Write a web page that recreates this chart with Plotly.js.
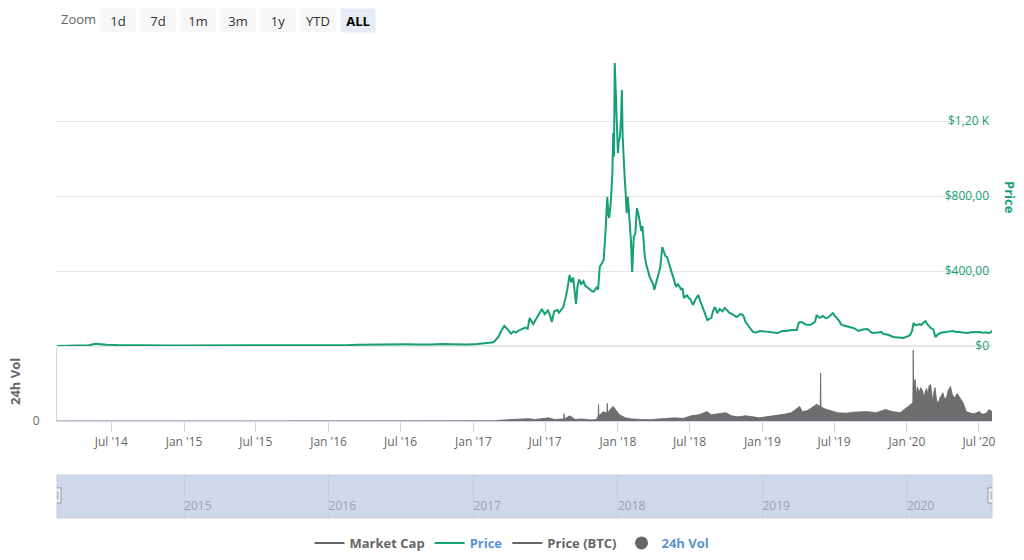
<!DOCTYPE html>
<html><head><meta charset="utf-8">
<script src="https://cdn.plot.ly/plotly-3.0.1.min.js"></script>
<style>html,body{margin:0;padding:0;background:#fff}#chart{width:1024px;height:560px}</style>
</head><body><div id="chart"></div>
<script>
// ---- Price (USD) ----
const priceDates = ["2014-02-14","2014-03-05","2014-03-25","2014-04-15","2014-05-05","2014-05-22","2014-06-01","2014-06-20","2014-07-15","2014-08-15","2014-09-15","2014-10-15","2014-11-15","2014-12-15",
"2015-01-15","2015-02-15","2015-03-15","2015-04-15","2015-05-15","2015-06-15","2015-07-15","2015-08-15","2015-09-15","2015-10-15","2015-11-15","2015-12-15",
"2016-01-15","2016-02-15","2016-03-15","2016-04-15","2016-05-15","2016-06-15","2016-07-15","2016-08-15","2016-09-15","2016-10-15","2016-11-15","2016-12-15",
"2017-01-10","2017-01-28","2017-02-10","2017-02-21","2017-03-05","2017-03-12","2017-03-20","2017-03-27","2017-04-06","2017-04-12","2017-04-18","2017-04-25","2017-05-03","2017-05-12","2017-05-18","2017-05-23","2017-06-01","2017-06-06","2017-06-12","2017-06-18","2017-06-23","2017-06-30","2017-07-04","2017-07-08","2017-07-13","2017-07-18","2017-07-24","2017-08-01","2017-08-05","2017-08-08","2017-08-12","2017-08-16","2017-08-21","2017-08-26","2017-09-01","2017-09-05","2017-09-10","2017-09-14","2017-09-17","2017-09-21","2017-09-25","2017-09-30","2017-10-06","2017-10-10","2017-10-14","2017-10-19","2017-10-23","2017-10-28","2017-11-01","2017-11-05","2017-11-08","2017-11-12","2017-11-16","2017-11-21","2017-11-26","2017-12-01","2017-12-05","2017-12-08","2017-12-10","2017-12-14","2017-12-18","2017-12-20","2017-12-22","2017-12-24","2017-12-27","2017-12-29",
"2018-01-01","2018-01-03","2018-01-06","2018-01-09","2018-01-11","2018-01-13","2018-01-16","2018-01-18","2018-01-21","2018-01-23","2018-01-26","2018-01-30","2018-02-03","2018-02-06","2018-02-10","2018-02-14","2018-02-18","2018-02-23","2018-03-01","2018-03-04","2018-03-07","2018-03-10","2018-03-14","2018-03-18","2018-03-22","2018-03-26","2018-03-31","2018-04-03","2018-04-07","2018-04-10","2018-04-14","2018-04-18","2018-04-23","2018-04-28","2018-05-01","2018-05-05","2018-05-09","2018-05-12","2018-05-15","2018-05-18","2018-05-23","2018-05-28","2018-06-01","2018-06-05","2018-06-10","2018-06-13","2018-06-17","2018-06-21","2018-06-25","2018-06-29","2018-07-03","2018-07-06","2018-07-10","2018-07-15","2018-07-19","2018-07-23","2018-07-28","2018-08-03","2018-08-08","2018-08-11","2018-08-15","2018-08-20","2018-08-25","2018-08-29","2018-09-03","2018-09-09","2018-09-15","2018-09-22","2018-09-28","2018-10-04","2018-10-10","2018-10-15","2018-10-20","2018-10-28","2018-11-06","2018-11-13","2018-11-16","2018-11-19","2018-11-25","2018-12-01","2018-12-08","2018-12-15","2018-12-20","2018-12-26",
"2019-01-05","2019-01-13","2019-01-25","2019-02-08","2019-02-20","2019-03-03","2019-03-15","2019-03-29","2019-04-03","2019-04-10","2019-04-20","2019-05-01","2019-05-10","2019-05-14","2019-05-18","2019-05-25","2019-06-03","2019-06-10","2019-06-15","2019-06-22","2019-06-28","2019-07-03","2019-07-08","2019-07-15","2019-07-20","2019-07-28","2019-08-05","2019-08-10","2019-08-20","2019-09-01","2019-09-12","2019-09-23","2019-10-05","2019-10-20","2019-10-28","2019-11-03","2019-11-15","2019-11-28","2019-12-10","2019-12-23",
"2020-01-05","2020-01-10","2020-01-14","2020-01-18","2020-01-21","2020-01-24","2020-02-01","2020-02-06","2020-02-10","2020-02-14","2020-02-17","2020-02-21","2020-02-24","2020-03-01","2020-03-08","2020-03-11","2020-03-13","2020-03-18","2020-03-25","2020-04-02","2020-04-08","2020-04-16","2020-04-28","2020-05-05","2020-05-10","2020-05-20","2020-05-28","2020-06-03","2020-06-10","2020-06-15","2020-06-22","2020-06-28","2020-07-04","2020-07-10","2020-07-17","2020-07-24","2020-07-30","2020-08-03"];
const priceValues = [0.3,1.8,4.5,6,4.5,12,9,7,5,3.5,2.6,2.3,2.4,2.1,
1.7,2.2,2.8,2.9,3.3,3.6,3.6,3.2,2.7,2.6,3.2,3.1,
3.6,3.9,6.8,7.6,7.1,11.5,9.3,8.6,7.5,10.8,9.2,8.2,
11,13,17,20,48,80,107,92,65,78,72,82,90,98,92,150,117,135,160,185,197,170,182,190,165,128,185,192,178,185,200,208,250,299,379,340,365,290,225,320,355,330,345,322,315,308,300,292,290,300,312,300,421,440,459,619,795,700,683,770,923,1136,1010,1509,1312,1221,
1029,1090,1115,1220,1365,1115,1020,901,800,709,795,690,560,395,581,600,736,690,613,640,560,475,430,395,370,352,330,300,330,352,390,420,528,500,480,475,450,430,400,389,350,315,330,320,299,310,256,265,270,255,251,235,219,245,260,272,240,203,180,160,139,145,150,185,208,175,197,185,203,190,176,172,165,155,170,165,150,130,112,95,75,72,76,80,
78,75,72,69,80,80,85,85,125,128,115,112,123,130,165,150,160,148,150,165,176,160,150,130,112,108,104,101,95,80,88,91,69,72,75,64,60,48,47,43,
53,62,80,123,115,110,117,112,120,125,133,118,110,96,87,70,48,60,69,73,73,78,80,74,76,72,70,69,73,74,72,73,75,71,73,69,71,82];

// ---- 24h volume (million USD) ----
const volDates = ["2014-02-14","2014-05-25","2014-09-15","2015-06-15","2016-06-15","2016-12-15","2017-01-15","2017-02-20","2017-03-20","2017-05-20","2017-06-05","2017-06-25","2017-07-10","2017-07-25","2017-08-17","2017-08-18","2017-08-19","2017-09-01","2017-09-15","2017-10-01","2017-10-25","2017-11-08","2017-11-12","2017-11-13","2017-11-14","2017-11-25","2017-12-04","2017-12-05","2017-12-06","2017-12-12","2017-12-20","2017-12-28",
"2018-01-05","2018-01-20","2018-02-05","2018-03-01","2018-03-25","2018-04-15","2018-05-05","2018-05-25","2018-06-15","2018-07-05","2018-07-25","2018-08-14","2018-08-25","2018-09-15","2018-10-01","2018-10-15","2018-11-01","2018-11-20","2018-12-10","2018-12-25",
"2019-01-10","2019-02-01","2019-02-25","2019-03-15","2019-04-05","2019-04-12","2019-04-25","2019-05-18","2019-05-27","2019-05-28","2019-05-29","2019-06-05","2019-06-20","2019-07-10","2019-08-01","2019-08-20","2019-09-23","2019-10-15","2019-11-08","2019-11-25","2019-12-15",
"2020-01-05","2020-01-16","2020-01-17","2020-01-18","2020-01-20","2020-01-22","2020-01-25","2020-01-28","2020-02-01","2020-02-05","2020-02-10","2020-02-13","2020-02-17","2020-02-20","2020-02-23","2020-02-26","2020-03-01","2020-03-04","2020-03-06","2020-03-09","2020-03-12","2020-03-16","2020-03-20","2020-03-25","2020-04-01","2020-04-05","2020-04-10","2020-04-15","2020-04-20","2020-04-25","2020-05-01","2020-05-07","2020-05-15","2020-05-22","2020-05-30","2020-06-07","2020-06-15","2020-06-23","2020-07-01","2020-07-10","2020-07-20","2020-07-26","2020-08-03"];
const volValues = [1,8,2,1,3,3,5,8,40,90,60,110,120,60,80,280,80,200,60,80,40,60,200,640,200,360,300,680,300,440,560,400,
240,120,80,60,50,80,100,120,100,200,240,360,240,280,320,200,160,200,160,120,
160,200,260,320,560,360,400,640,560,1840,560,480,400,320,300,340,360,320,440,360,320,
560,700,2720,1200,1500,1600,1000,1300,1100,1280,1150,900,1160,1250,1000,1350,1400,900,760,1100,1280,800,680,900,1080,850,900,1200,1320,1000,880,1050,840,700,360,320,280,300,360,260,300,440,360];

// ---- labels ----
const xTickDates = ["2014-07-01","2015-01-01","2015-07-01","2016-01-01","2016-07-01","2017-01-01","2017-07-01","2018-01-01","2018-07-01","2019-01-01","2019-07-01","2020-01-01","2020-07-01"];
const xTickLabels = ["Jul '14","Jan '15","Jul '15","Jan '16","Jul '16","Jan '17","Jul '17","Jan '18","Jul '18","Jan '19","Jul '19","Jan '20","Jul '20"];
const priceTicks = [0,400,800,1200,1600];
const priceTickLabels = ["$0","$400,00","$800,00","$1,20 K",""];
const navYears = ["2015-01-01","2016-01-01","2017-01-01","2018-01-01","2019-01-01","2020-01-01"];
const navYearLabels = ["2015","2016","2017","2018","2019","2020"];
const zoomButtons = ["1d","7d","1m","3m","1y","YTD","ALL"];
const legendNames = ["Market Cap","Price","Price (BTC)","24h Vol"];

const GREEN = "#15a077";
const FONT = "Open Sans, Noto Sans, sans-serif";
const xStart = priceDates[0], xEnd = priceDates[priceDates.length-1];

const traces = [
  {type:"scatter", mode:"lines", x:[null], y:[null], name:'<b><span style="color:#666">'+legendNames[0]+'</span></b>', line:{color:"#666",width:2}, xaxis:"x", yaxis:"y", hoverinfo:"skip"},
  {type:"scatter", mode:"lines", x:priceDates, y:priceValues, name:'<b><span style="color:#5b93d3">'+legendNames[1]+'</span></b>', line:{color:GREEN,width:2}, xaxis:"x", yaxis:"y"},
  {type:"scatter", mode:"lines", x:[null], y:[null], name:'<b><span style="color:#666">'+legendNames[2]+'</span></b>', line:{color:"#666",width:2}, xaxis:"x", yaxis:"y", hoverinfo:"skip"},
  {type:"scatter", mode:"lines", x:volDates, y:volValues, fill:"tozeroy", fillcolor:"#6e6e6e", line:{color:"#666",width:0.8}, xaxis:"x", yaxis:"y2", showlegend:false, name:"24h Vol"},
  {type:"scatter", mode:"markers", x:[null], y:[null], name:'<b><span style="color:#5b93d3">'+legendNames[3]+'</span></b>', marker:{color:"#666",size:13,symbol:"circle"}, xaxis:"x", yaxis:"y2"}
];

const annotations = [
  {text:"Zoom", xref:"paper", yref:"paper", x:59/1024, y:1-19/560, xanchor:"left", yanchor:"middle", showarrow:false, font:{size:13,color:"#666",family:FONT}},
  {text:"<b>Price</b>", xref:"paper", yref:"paper", x:1010/1024, y:1-197/560, xanchor:"center", yanchor:"middle", textangle:90, showarrow:false, font:{size:13,color:GREEN,family:FONT}},
  {text:"<b>24h Vol</b>", xref:"paper", yref:"paper", x:15/1024, y:1-382/560, xanchor:"center", yanchor:"middle", textangle:-90, showarrow:false, font:{size:13,color:"#666",family:FONT}}
];
zoomButtons.forEach((b,i)=>{
  const sel = (b==="ALL");
  annotations.push({text: sel?"<b>"+b+"</b>":b, xref:"paper", yref:"paper", x:(100+i*40)/1024, y:1-8/560, xanchor:"left", yanchor:"top",
    width:34, height:23, align:"center", valign:"middle", borderpad:0, bgcolor: sel?"#e6ebf5":"#f7f7f7", showarrow:false,
    font:{size:13,color:sel?"#000":"#333",family:FONT}});
});

const layout = {
  width:1024, height:560,
  margin:{l:0,r:0,t:0,b:0},
  paper_bgcolor:"#fff", plot_bgcolor:"rgba(0,0,0,0)",
  font:{family:FONT, size:12, color:"#666"},
  showlegend:true,
  legend:{orientation:"h", x:0.5, xanchor:"center", y:1-543/560, yanchor:"middle", font:{size:13, family:FONT}, itemwidth:30, traceorder:"normal"},
  xaxis:{
    type:"date", domain:[57/1024, 992/1024], anchor:"y2", range:[xStart,xEnd],
    tickmode:"array", tickvals:xTickDates, ticktext:xTickLabels,
    showgrid:false, zeroline:false, showline:true, linecolor:"#ccd6eb", linewidth:1,
    ticks:"outside", ticklen:10, tickcolor:"#ccd6eb", tickfont:{size:12,color:"#666"},
    ticklabeloverflow:"allow", automargin:false
  },
  yaxis:{
    domain:[1-346/560, 1-46/560], anchor:"x", side:"right", range:[0,1600],
    tickmode:"array", tickvals:priceTicks, ticktext:priceTickLabels,
    ticklabelposition:"inside", ticklabeloverflow:"allow", tickfont:{size:12,color:GREEN},
    showgrid:true, gridcolor:"#e6e6e6", gridwidth:1,
    zeroline:true, zerolinecolor:"#e6e6e6", zerolinewidth:2,
    showline:false, ticks:"", automargin:false, fixedrange:true
  },
  yaxis2:{
    domain:[1-421/560, 1-348/560], anchor:"x", side:"left", range:[0,2800],
    tickmode:"array", tickvals:[0], ticktext:["0"], tickfont:{size:12,color:"#666"},
    showgrid:false, zeroline:false, showline:true, linecolor:"#ccd6eb", linewidth:1,
    ticks:"", ticklabelstandoff:14, automargin:false, fixedrange:true
  },
  xaxis3:{
    type:"date", domain:[57/1024, 992/1024], anchor:"y3", range:[xStart,xEnd],
    tickmode:"array", tickvals:navYears, ticktext:navYearLabels,
    ticklabelposition:"inside right", ticklabeloverflow:"allow", tickfont:{size:12,color:"#9aa1ae"},
    showgrid:true, gridcolor:"#c3cde2", gridwidth:1, zeroline:false, showline:false,
    ticks:"", automargin:false, fixedrange:true
  },
  yaxis3:{domain:[1-518/560, 1-475/560], anchor:"x3", range:[0,1], visible:false, fixedrange:true},
  shapes:[
    {type:"rect", xref:"x3 domain", yref:"y3 domain", x0:0, x1:1, y0:0, y1:1, fillcolor:"#cfd8ea", line:{color:"#c6cedd",width:1}, layer:"below"},
    {type:"rect", xref:"x3", yref:"y3", xsizemode:"pixel", xanchor:xStart, x0:-4, x1:4, y0:0.35, y1:0.70, fillcolor:"#f2f2f2", line:{color:"#999",width:1}},
    {type:"rect", xref:"x3", yref:"y3", xsizemode:"pixel", xanchor:xEnd, x0:-4, x1:4, y0:0.35, y1:0.70, fillcolor:"#f2f2f2", line:{color:"#999",width:1}},
    {type:"line", xref:"x3", yref:"y3", xsizemode:"pixel", xanchor:xStart, x0:-1, x1:-1, y0:0.43, y1:0.62, line:{color:"#999",width:1}},
    {type:"line", xref:"x3", yref:"y3", xsizemode:"pixel", xanchor:xStart, x0:1, x1:1, y0:0.43, y1:0.62, line:{color:"#999",width:1}},
    {type:"line", xref:"x3", yref:"y3", xsizemode:"pixel", xanchor:xEnd, x0:-1, x1:-1, y0:0.43, y1:0.62, line:{color:"#999",width:1}},
    {type:"line", xref:"x3", yref:"y3", xsizemode:"pixel", xanchor:xEnd, x0:1, x1:1, y0:0.43, y1:0.62, line:{color:"#999",width:1}}
  ],
  annotations:annotations
};

Plotly.newPlot("chart", traces, layout, {displayModeBar:false});
</script>
</body></html>
